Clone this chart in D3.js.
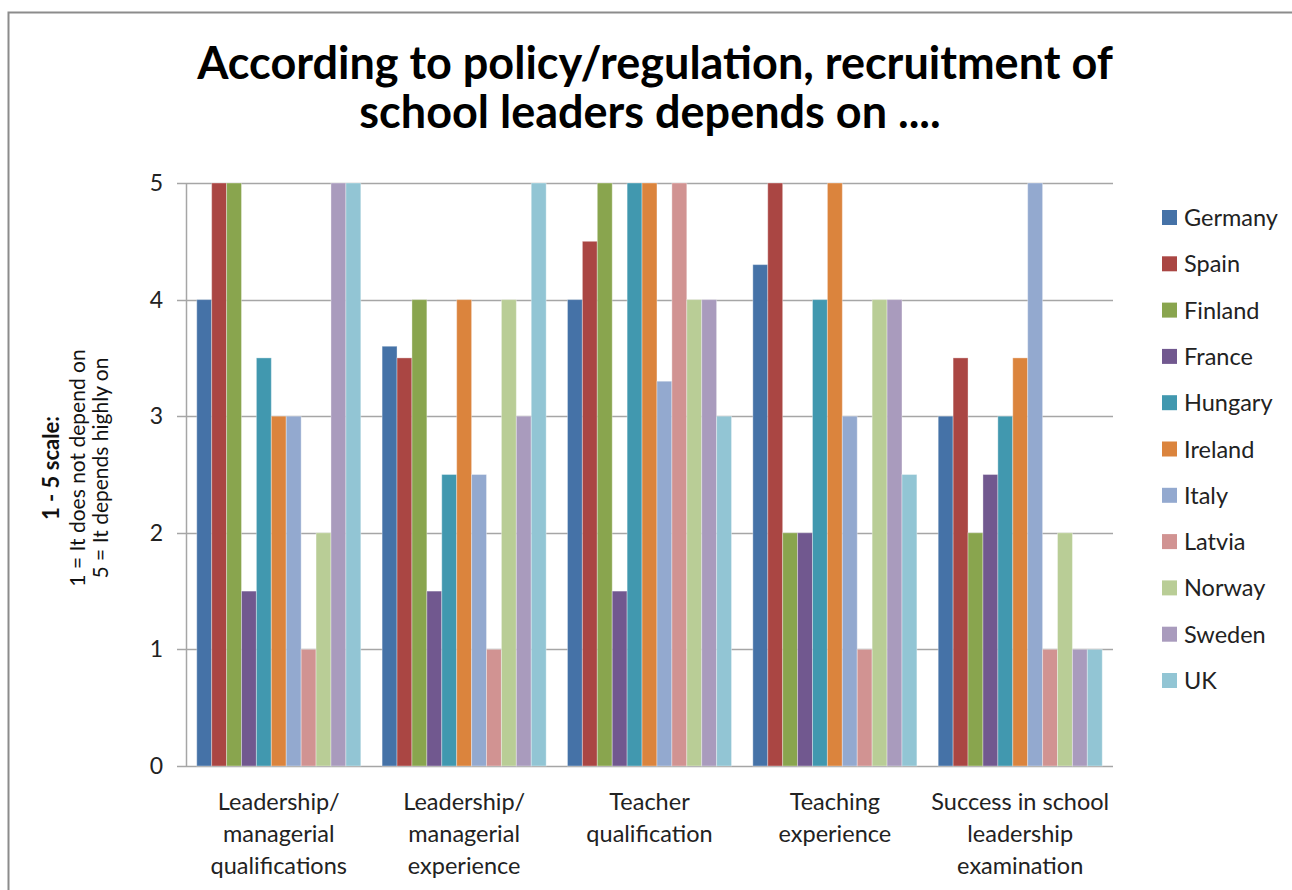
<!DOCTYPE html>
<html>
<head>
<meta charset="utf-8">
<script src="https://cdn.jsdelivr.net/npm/d3@7"></script>
<style>
  html, body { margin: 0; padding: 0; background: #fff; }
  svg { display: block; font-family: Lato, "Open Sans", sans-serif; }
</style>
</head>
<body>
<svg id="chart" width="1292" height="890"></svg>
<script>
// chart data
var categories = [
  ['Leadership/', 'managerial', 'qualifications'],
  ['Leadership/', 'managerial', 'experience'],
  ['Teacher', 'qualification'],
  ['Teaching', 'experience'],
  ['Success in school', 'leadership', 'examination']
];
var countries = ['Germany', 'Spain', 'Finland', 'France', 'Hungary', 'Ireland',
                 'Italy', 'Latvia', 'Norway', 'Sweden', 'UK'];
var germany = [4, 3.6, 4, 4.3, 3];
var spain   = [5, 3.5, 4.5, 5, 3.5];
var finland = [5, 4, 5, 2, 2];
var france  = [1.5, 1.5, 1.5, 2, 2.5];
var hungary = [3.5, 2.5, 5, 4, 3];
var ireland = [3, 4, 5, 5, 3.5];
var italy   = [3, 2.5, 3.3, 3, 5];
var latvia  = [1, 1, 5, 1, 1];
var norway  = [2, 4, 4, 4, 2];
var sweden  = [5, 3, 4, 4, 1];
var uk      = [5, 5, 3, 2.5, 1];
var yTicks = [0, 1, 2, 3, 4, 5];

(function() {

var series = [germany, spain, finland, france, hungary, ireland, italy, latvia, norway, sweden, uk],
    colors = ['#4572A7', '#AA4643', '#89A54E', '#71588F', '#4198AF', '#DB843D',
              '#93A9CF', '#D19392', '#B9CD96', '#A99BBD', '#92C5D4'],
    svg = d3.select('#chart'),
    plotL = 186, plotR = 1113, plotT = 183, plotB = 766;

// outer frame
svg.append('rect')
  .attr('x', 8.5).attr('y', 12.5)
  .attr('width', 1300).attr('height', 900)
  .attr('fill', 'none').attr('stroke', '#8c8c8c').attr('stroke-width', 2);

// title
svg.append('text')
  .attr('x', 655).attr('y', 79)
  .attr('text-anchor', 'middle')
  .attr('font-size', 45).attr('font-weight', 'bold')
  .text('According to policy/regulation, recruitment of');
svg.append('text')
  .attr('x', 650).attr('y', 128)
  .attr('text-anchor', 'middle')
  .attr('font-size', 45).attr('font-weight', 'bold')
  .text('school leaders depends on ....');

var x0 = d3.scaleBand()
  .domain(d3.range(categories.length))
  .range([plotL, plotR])
  .paddingInner(0.115)
  .paddingOuter(0.058);

var x1 = d3.scaleBand()
  .domain(d3.range(countries.length))
  .range([0, x0.bandwidth()]);

var y = d3.scaleLinear().domain([0, 5]).range([plotB, plotT]);

// gridlines
svg.append('g')
  .selectAll('line')
  .data(yTicks)
  .enter().append('line')
  .attr('x1', plotL - 9).attr('x2', plotR)
  .attr('y1', function(d) { return Math.round(y(d)) + 0.5; })
  .attr('y2', function(d) { return Math.round(y(d)) + 0.5; })
  .attr('stroke', '#a6a6a6').attr('stroke-width', 1.5);

// y axis line
svg.append('line')
  .attr('x1', plotL + 0.5).attr('x2', plotL + 0.5)
  .attr('y1', plotT).attr('y2', plotB)
  .attr('stroke', '#a6a6a6').attr('stroke-width', 1.5);

// y tick labels
svg.append('g')
  .selectAll('text')
  .data(yTicks)
  .enter().append('text')
  .attr('x', 163)
  .attr('y', function(d) { return y(d) + 8; })
  .attr('text-anchor', 'end')
  .attr('font-size', 23)
  .attr('fill', '#222')
  .text(function(d) { return d; });

// bars
var groups = svg.append('g')
  .selectAll('g')
  .data(categories)
  .enter().append('g')
  .attr('transform', function(d, i) { return 'translate(' + x0(i) + ',0)'; });

groups.selectAll('rect')
  .data(function(d, i) {
    return series.map(function(s, k) { return { k: k, v: s[i] }; });
  })
  .enter().append('rect')
  .attr('x', function(d) { return x1(d.k); })
  .attr('width', x1.bandwidth())
  .attr('y', function(d) { return y(d.v); })
  .attr('height', function(d) { return plotB - y(d.v); })
  .attr('fill', function(d) { return colors[d.k]; })
  .attr('stroke', 'rgba(255,255,255,0.35)')
  .attr('stroke-width', 1);

// x category labels
groups.each(function(lines) {
  var t = d3.select(this).append('text')
    .attr('text-anchor', 'middle')
    .attr('font-size', 23.5)
    .attr('fill', '#222');
  lines.forEach(function(l, j) {
    t.append('tspan')
      .attr('x', x0.bandwidth() / 2)
      .attr('y', 810 + j * 32)
      .text(l);
  });
});

// y axis title
var yTitle = svg.append('text')
  .attr('transform', 'translate(0,468) rotate(-90)')
  .attr('text-anchor', 'middle')
  .attr('font-size', 21)
  .attr('fill', '#111');
yTitle.append('tspan').attr('x', 0).attr('y', 59)
  .attr('font-size', 22).attr('font-weight', 'bold').text('1 - 5 scale:');
yTitle.append('tspan').attr('x', 0).attr('y', 85)
  .text('1 = It does not depend on');
yTitle.append('tspan').attr('x', 0).attr('y', 108)
  .text('5 = It depends highly on');

// legend
var legend = svg.append('g')
  .selectAll('g')
  .data(countries)
  .enter().append('g')
  .attr('transform', function(d, i) { return 'translate(1162,' + (210 + i * 46.3) + ')'; });
legend.append('rect')
  .attr('width', 15).attr('height', 15)
  .attr('fill', function(d, i) { return colors[i]; });
legend.append('text')
  .attr('x', 22).attr('y', 16)
  .attr('font-size', 23.5)
  .attr('fill', '#222')
  .text(function(d) { return d; });

})();
</script>
</body>
</html>
